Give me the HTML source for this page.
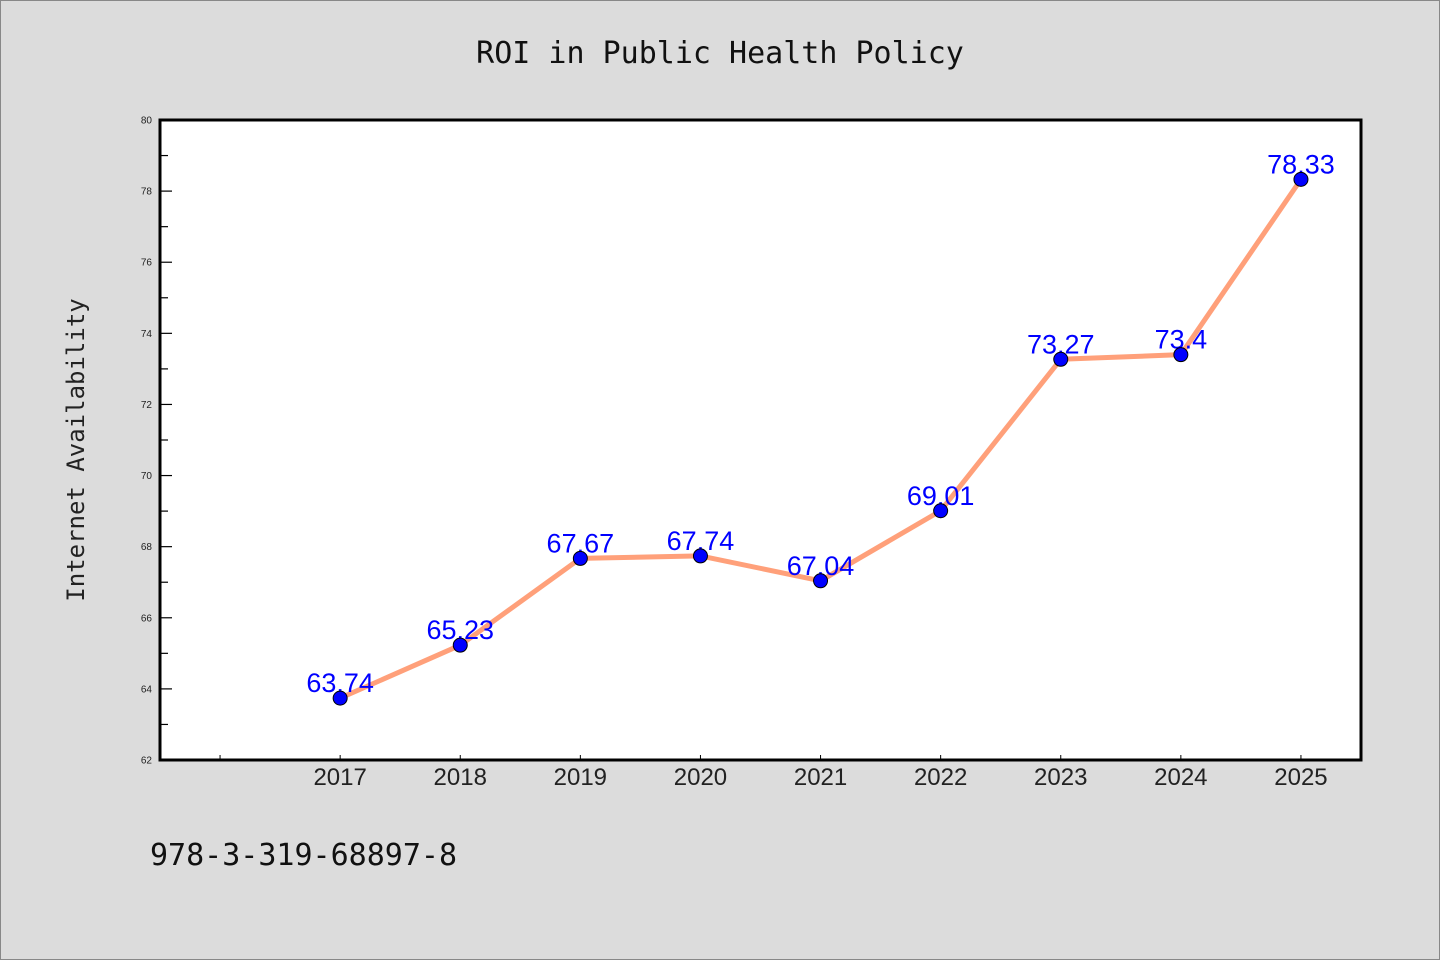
<!DOCTYPE html>
<html><head><meta charset="utf-8"><style>
body{margin:0;background:#dcdcdc;}
svg{display:block;font-family:"Liberation Sans","DejaVu Sans",sans-serif;}
</style></head><body>
<svg id="chart" width="1440" height="960">
<rect x="0.5" y="0.5" width="1439" height="959" fill="#dcdcdc" stroke="#888"/>
<text x="720" y="63" text-anchor="middle" font-size="30" fill="#111" font-family="DejaVu Sans Mono, monospace">ROI in Public Health Policy</text>
<text transform="translate(84,450) rotate(-90)" text-anchor="middle" font-size="24" fill="#222" font-family="DejaVu Sans Mono, monospace">Internet Availability</text>
<text x="150" y="865" font-size="30" fill="#111" font-family="DejaVu Sans Mono, monospace">978-3-319-68897-8</text>
<rect x="160" y="120" width="1201" height="640" fill="#fff"/>
<g id="axes"></g>
<g id="series"></g>
<rect x="160" y="120" width="1201" height="640" fill="none" stroke="#000" stroke-width="3"/>
</svg>
<script>
const years=[2017,2018,2019,2020,2021,2022,2023,2024,2025];
const values=[63.74,65.23,67.67,67.74,67.04,69.01,73.27,73.4,78.33];
const labels=["63.74","65.23","67.67","67.74","67.04","69.01","73.27","73.4","78.33"];
const yTicks=[62,64,66,68,70,72,74,76,78,80];
const xTicks=[2016,2017,2018,2019,2020,2021,2022,2023,2024,2025];
const NS="http://www.w3.org/2000/svg";
const X0=160,X1=1361,Y0=120,Y1=760,xmin=2015.5,xmax=2025.5,ymin=62,ymax=80;
function xs(v){return X0+(v-xmin)/(xmax-xmin)*(X1-X0);}
function ys(v){return Y1-(v-ymin)/(ymax-ymin)*(Y1-Y0);}
function mk(t,a,p){const e=document.createElementNS(NS,t);for(const k in a)e.setAttribute(k,a[k]);p.appendChild(e);return e;}
const ax=document.getElementById('axes'),se=document.getElementById('series');
yTicks.forEach(v=>{
 const l=mk('line',{x1:X0,x2:X0+12,y1:ys(v),y2:ys(v),stroke:'#000','stroke-width':1.2},ax);
 
 
 const t=mk('text',{x:X0-8,y:ys(v)+3.5,'text-anchor':'end','font-size':10,fill:'#222'},ax);
 t.textContent=v;
 
 
 if(v<ymax){const m=mk('line',{x1:X0,x2:X0+8,y1:ys(v+1),y2:ys(v+1),stroke:'#000','stroke-width':1.2},ax);
 
 }
});
xTicks.forEach(v=>{
 const l=mk('line',{x1:xs(v),x2:xs(v),y1:Y1,y2:Y1-5,stroke:'#000','stroke-width':1},ax);
 
 
 if(years.includes(v)){const t=mk('text',{x:xs(v),y:Y1+25,'text-anchor':'middle','font-size':24,fill:'#222'},ax);
 t.textContent=v;
 
 }
});
const pts=years.map((y,i)=>xs(y)+','+ys(values[i])).join(' ');
const pl=mk('polyline',{points:pts,fill:'none',stroke:'#ffa07a','stroke-width':5,'stroke-linejoin':'round'},se);


years.forEach((y,i)=>{
 const t=mk('text',{x:xs(y),y:ys(values[i])-6,'text-anchor':'middle','font-size':27,fill:'#0000ff'},se);
 t.textContent=labels[i];
 
 
});
years.forEach((y,i)=>{
 const c=mk('circle',{cx:xs(y),cy:ys(values[i]),r:7,fill:'#0000ff',stroke:'#000','stroke-width':1},se);
 
 
});
</script>
</body></html>
